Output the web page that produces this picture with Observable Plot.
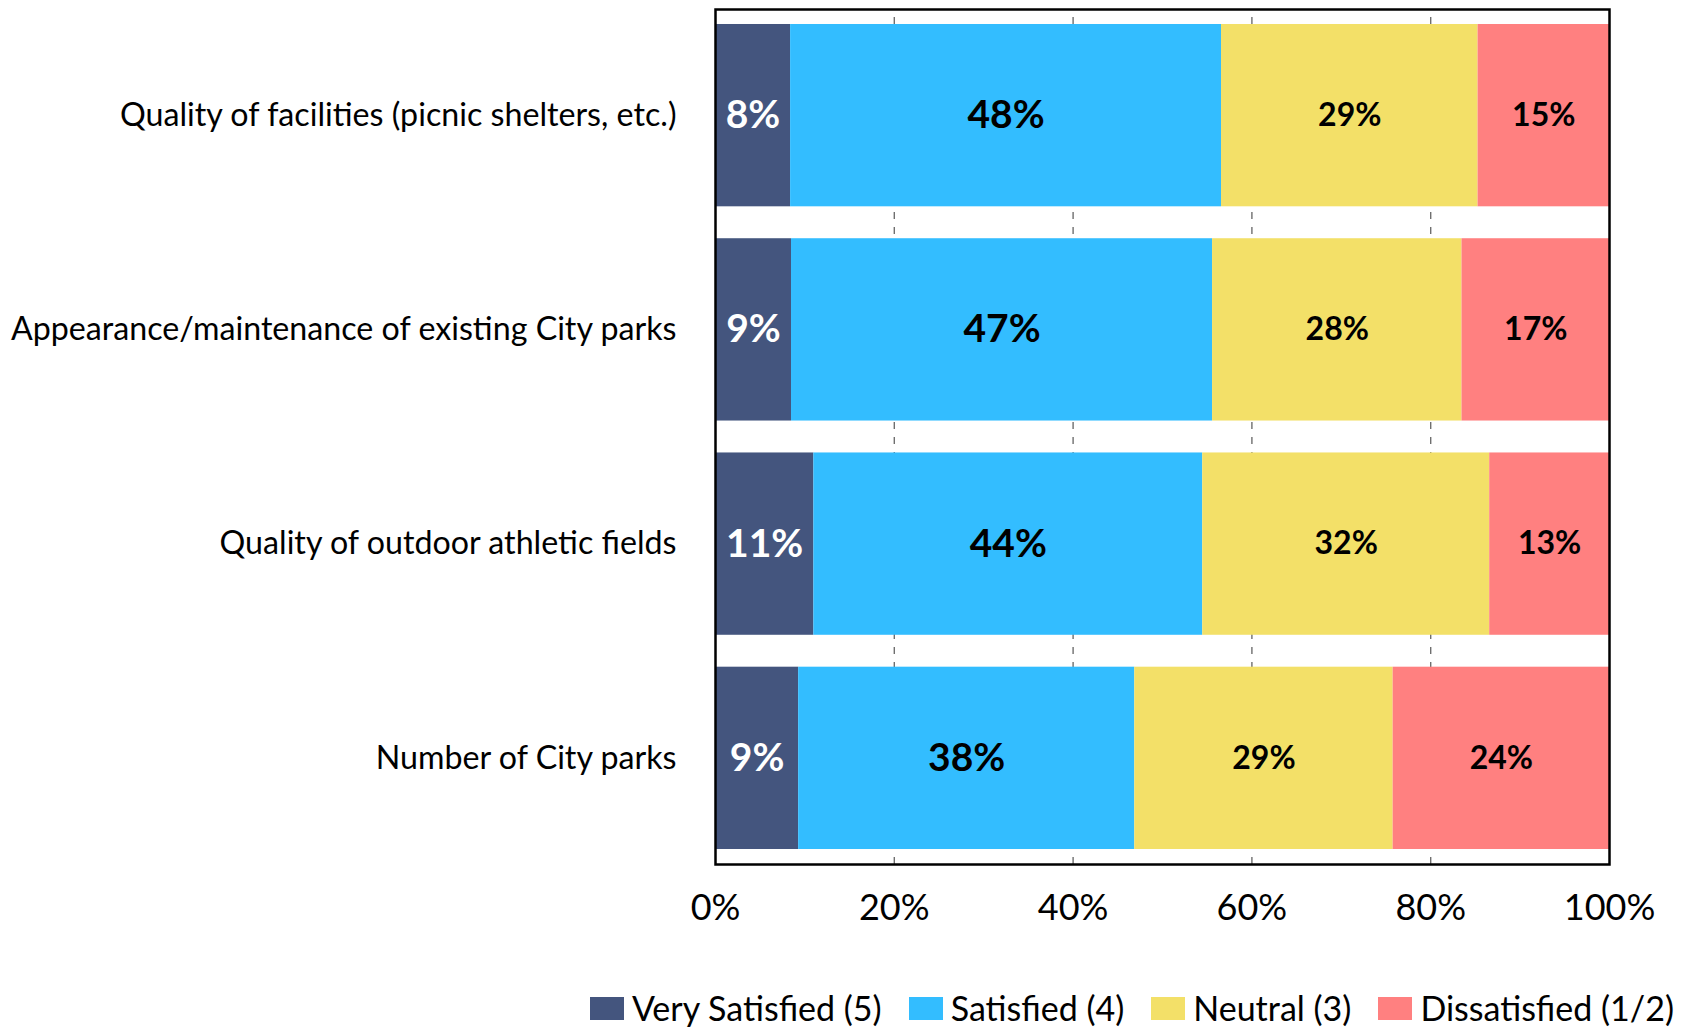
<!DOCTYPE html>
<html><head><meta charset="utf-8">
<script src="https://cdn.jsdelivr.net/npm/d3@7"></script>
<script src="https://cdn.jsdelivr.net/npm/@observablehq/plot@0.6"></script>
<style>
body{margin:0;background:#fff;font-family:Lato,sans-serif;color:#000;}
#legend{display:flex;justify-content:flex-end;padding-right:14px;margin-top:28px;align-items:center;font-size:34px;line-height:40px;}
.item{display:flex;align-items:center;margin-left:27px}
.sw{width:34px;height:23px;margin-right:8px}
</style></head><body><div id="chart"></div><div id="legend"></div>
<script>
const categories = [
  "Quality of facilities (picnic shelters, etc.)",
  "Appearance/maintenance of existing City parks",
  "Quality of outdoor athletic fields",
  "Number of City parks"
];
const levels = ["Very Satisfied (5)", "Satisfied (4)", "Neutral (3)", "Dissatisfied (1/2)"];
const colors = ["#44557E", "#33BDFF", "#F3E068", "#FF8080"];
const verySatisfied = [8.4, 8.5, 11.0, 9.3];
const satisfied = [48.2, 47.1, 43.5, 37.6];
const neutral = [28.7, 27.9, 32.1, 28.9];
const dissatisfied = [14.7, 16.5, 13.4, 24.2];
const xTicks = [0, 20, 40, 60, 80, 100];
const gridTicks = [20, 40, 60, 80];

const series = [verySatisfied, satisfied, neutral, dissatisfied];
const data = [];
categories.forEach((c, i) => series.forEach((s, j) => data.push({category: c, level: levels[j], value: s[i]})));
const pct = d => Math.round(d.value) + "%";

const H = 960;
const chart = Plot.plot({
  width: 1688, height: H,
  marginLeft: 715, marginRight: 79, marginTop: 9, marginBottom: H - 864,
  style: {fontFamily: "Lato, sans-serif", color: "#000", background: "#fff", overflow: "visible"},
  x: {domain: [0, 100]},
  y: {domain: categories, paddingInner: 0.149, paddingOuter: 0.07, round: false, label: null},
  color: {domain: levels, range: colors},
  marks: [
    Plot.ruleX(gridTicks, {stroke: "#6f6f6f", strokeWidth: 1.4, strokeDasharray: "7,8", strokeDashoffset: 7}),
    Plot.barX(data, {x: "value", y: "category", fill: "level"}),
    Plot.text(data, Plot.stackX({x: "value", y: "category", text: d => d.level === levels[0] ? pct(d) : null, fill: "#fff", fontSize: 39, fontWeight: "bold"})),
    Plot.text(data, Plot.stackX({x: "value", y: "category", text: d => d.level === levels[1] ? pct(d) : null, fill: "#000", fontSize: 39, fontWeight: "bold"})),
    Plot.text(data, Plot.stackX({x: "value", y: "category", text: d => (d.level === levels[2] || d.level === levels[3]) ? pct(d) : null, fill: "#000", fontSize: 32, fontWeight: "bold"})),
    Plot.axisX({ticks: xTicks, tickFormat: d => d + "%", tickSize: 0, tickPadding: 30, fontSize: 36, label: null}),
    Plot.axisY({tickSize: 0, tickPadding: 39, fontSize: 32.2, label: null}),
    Plot.frame({stroke: "#000", strokeWidth: 2.5})
  ]
});
document.getElementById("chart").append(chart);

const legend = document.getElementById("legend");
levels.forEach((l, i) => {
  const item = document.createElement("div");
  item.className = "item";
  const sw = document.createElement("span");
  sw.className = "sw";
  sw.style.background = colors[i];
  const t = document.createElement("span");
  t.textContent = l;
  item.append(sw, t);
  legend.append(item);
});
</script></body></html>
